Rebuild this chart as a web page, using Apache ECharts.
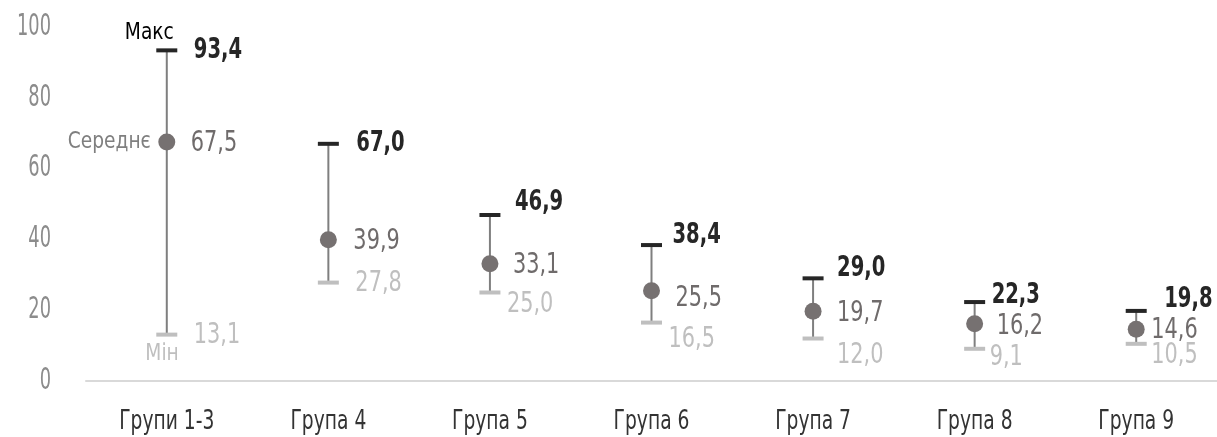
<!DOCTYPE html>
<html>
<head>
<meta charset="utf-8">
<script src="https://cdn.jsdelivr.net/npm/echarts@6/dist/echarts.min.js"></script>
<style>
  html, body { margin: 0; padding: 0; background: #fff; }
  #chart { width: 1217px; height: 437px; }
</style>
</head>
<body>
<div id="chart"></div>
<script>
// дані
const categories = ['Групи 1-3', 'Група 4', 'Група 5', 'Група 6', 'Група 7', 'Група 8', 'Група 9'];
const maxValues = [93.4, 67.0, 46.9, 38.4, 29.0, 22.3, 19.8];
const meanValues = [67.5, 39.9, 33.1, 25.5, 19.7, 16.2, 14.6];
const minValues = [13.1, 27.8, 25.0, 16.5, 12.0, 9.1, 10.5];
const yTicks = [0, 20, 40, 60, 80, 100];

// зсуви підписів (px), щоб не накладалися
const maxLabelShift = [[27, 0], [28, 0], [25, -13], [21, -10], [24, -10], [17, -7], [28, -11]];
const meanLabelShift = [[24, 1], [25, 2], [23, 2], [24, 8], [24, 2], [22, 3], [15, 1]];
const minLabelShift = [[27, 1], [27, 1], [17, 12], [17, 17], [24, 17], [15, 9], [15, 12]];

const FONT = '"DejaVu Sans Condensed", "DejaVu Sans", sans-serif';
const C_MAX = '#262626';
const C_MEAN = '#767171';
const C_MIN = '#bfbfbf';
const C_LINE = '#7f7f7f';

function fmt(v) {
  return v.toFixed(1).replace('.', ',');
}

// вузький текст (шрифт DIN Condensed недоступний, тому стискаємо по горизонталі)
function narrowText(x, y, text, fill, font, sx, align) {
  return {
    type: 'text',
    x: x,
    y: y,
    scaleX: sx,
    style: { x: 0, y: 0, text: text, fill: fill, font: font, align: align || 'left', verticalAlign: 'middle' }
  };
}

const chart = echarts.init(document.getElementById('chart'));

const whiskerData = categories.map((c, i) => [i, minValues[i], meanValues[i], maxValues[i]]);

const option = {
  animation: false,
  grid: { left: 86, right: 0, top: 27, bottom: 56 },
  xAxis: {
    type: 'category',
    data: categories,
    axisLine: { lineStyle: { color: '#d9d9d9', width: 2 } },
    axisTick: { show: false },
    axisLabel: { show: false }
  },
  yAxis: {
    type: 'value',
    min: yTicks[0],
    max: yTicks[yTicks.length - 1],
    interval: 20,
    splitLine: { show: false },
    axisLine: { show: false },
    axisTick: { show: false },
    axisLabel: { show: false }
  },
  series: [
    {
      // підписи осі Y
      type: 'custom',
      data: yTicks.map(v => [0, v]),
      silent: true,
      renderItem: function (params, api) {
        const p = api.coord([0, api.value(1)]);
        return narrowText(params.coordSys.x - 35, p[1], String(api.value(1)), '#8c8c8c', '30px ' + FONT, 0.66, 'right');
      }
    },
    {
      // підписи категорій
      type: 'custom',
      data: categories.map((c, i) => [i, 0]),
      silent: true,
      renderItem: function (params, api) {
        const i = api.value(0);
        const p = api.coord([i, 0]);
        return narrowText(p[0], p[1] + 41, categories[i], '#333', '27px ' + FONT, 0.77, 'center');
      }
    },
    {
      type: 'custom',
      data: whiskerData,
      renderItem: function (params, api) {
        const i = api.value(0);
        const pMin = api.coord([i, api.value(1)]);
        const pMean = api.coord([i, api.value(2)]);
        const pMax = api.coord([i, api.value(3)]);
        const x = pMax[0];
        const capW = 21;
        const children = [
          { type: 'line', shape: { x1: x, y1: pMax[1], x2: x, y2: pMin[1] }, style: { stroke: C_LINE, lineWidth: 2 } },
          { type: 'line', shape: { x1: x - capW / 2, y1: pMax[1], x2: x + capW / 2, y2: pMax[1] }, style: { stroke: C_MAX, lineWidth: 4 } },
          { type: 'line', shape: { x1: x - capW / 2, y1: pMin[1], x2: x + capW / 2, y2: pMin[1] }, style: { stroke: C_MIN, lineWidth: 4 } },
          { type: 'circle', shape: { cx: x, cy: pMean[1], r: 8.5 }, style: { fill: C_MEAN } },
          narrowText(x + maxLabelShift[i][0], pMax[1] + maxLabelShift[i][1], fmt(api.value(3)), C_MAX, 'bold 29px ' + FONT, 0.75),
          narrowText(x + meanLabelShift[i][0], pMean[1] + meanLabelShift[i][1], fmt(api.value(2)), '#6f6b6b', '29px ' + FONT, 0.8),
          narrowText(x + minLabelShift[i][0], pMin[1] + minLabelShift[i][1], fmt(api.value(1)), C_MIN, '29px ' + FONT, 0.8)
        ];
        // легенда-підписи біля першої групи
        if (i === 0) {
          children.push(
            narrowText(x + 7, pMax[1] - 17, 'Макс', '#000', '23px ' + FONT, 0.9, 'right'),
            narrowText(x - 16, pMean[1], 'Середнє', '#7f7f7f', '23px ' + FONT, 0.9, 'right'),
            narrowText(x + 12, pMin[1] + 19, 'Мін', C_MIN, '23px ' + FONT, 0.9, 'right')
          );
        }
        return { type: 'group', children: children };
      }
    }
  ]
};

chart.setOption(option);
</script>
</body>
</html>
